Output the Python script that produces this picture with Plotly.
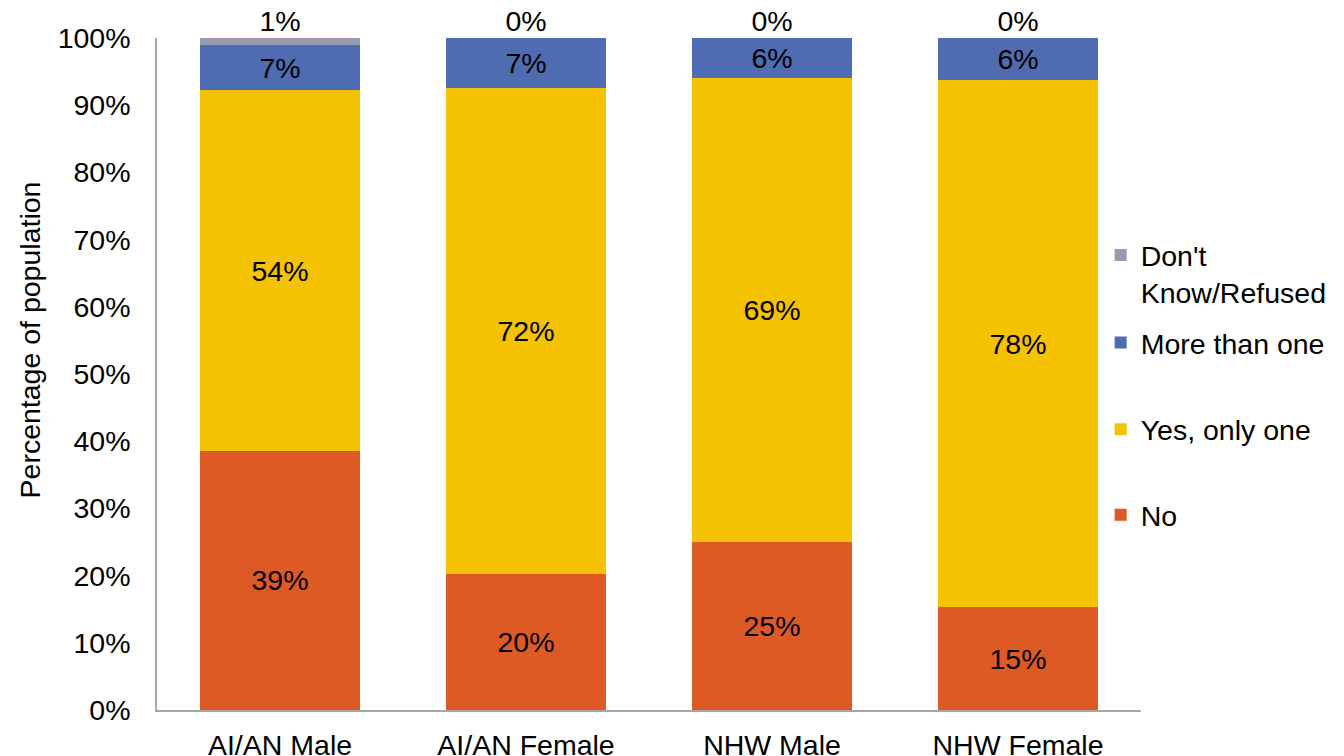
import plotly.graph_objects as go

categories = ["AI/AN Male", "AI/AN Female", "NHW Male", "NHW Female"]
no_vals = [38.6, 20.2, 25.0, 15.3]
yes_one_vals = [53.6, 72.4, 69.1, 78.4]
more_vals = [6.8, 7.4, 5.9, 6.3]
dk_vals = [1.0, 0.0, 0.0, 0.0]
y_ticks = [0, 10, 20, 30, 40, 50, 60, 70, 80, 90, 100]
y_tick_labels = [f"{t}%" for t in y_ticks]

# name, values, colour, show inside text, legend id, legend y (paper)
series = [
    ("No", no_vals, "#DE5A24", True, "legend4", 0.290),
    ("Yes, only one", yes_one_vals, "#F4C200", True, "legend3", 0.417),
    ("More than one", more_vals, "#4F6CB2", True, "legend2", 0.546),
    ("Don't<br>Know/Refused", dk_vals, "#9B9BB0", False, "legend", 0.649),
]

FONT = "Liberation Sans, Arial, sans-serif"
FS = 28.5
fig = go.Figure()
legends = {}
for name, vals, color, inside, leg, ly in series:
    fig.add_trace(go.Bar(
        x=categories, y=vals, name=name,
        marker=dict(color=color, line=dict(width=0)),
        text=[f"{round(v):.0f}%" for v in vals] if inside else None,
        textposition="inside" if inside else "none",
        insidetextanchor="middle",
        textangle=0, constraintext="none",
        textfont=dict(size=FS, color="#000000", family=FONT),
        cliponaxis=False,
        legend=leg,
    ))
    legends[leg] = dict(
        x=0.959, xanchor="left", y=ly, yanchor="middle",
        font=dict(size=FS, family=FONT), valign="top",
        bgcolor="rgba(0,0,0,0)",
    )

# Labels for the "Don't Know/Refused" segment, placed above each stack
totals = [a + b + c + d for a, b, c, d in zip(no_vals, yes_one_vals, more_vals, dk_vals)]
fig.add_trace(go.Scatter(
    x=categories, y=totals, mode="text",
    text=[f"{round(v):.0f}%" for v in dk_vals],
    textposition="top center",
    textfont=dict(size=FS, color="#000000", family=FONT),
    cliponaxis=False, showlegend=False, hoverinfo="skip",
))

# page body has an 8px default margin; size figure to fit the 1344x756 window
fig.update_layout(
    barmode="stack", bargap=0.35,
    width=1336, height=748,
    margin=dict(l=149, r=200, t=30, b=46),
    paper_bgcolor="white", plot_bgcolor="white",
    font=dict(family=FONT, size=FS, color="#000000"),
    showlegend=True,
    xaxis=dict(
        showline=True, linecolor="#A6A6A6", linewidth=1.5,
        ticks="", ticklabelstandoff=9, showgrid=False, automargin=False,
        tickfont=dict(size=FS),
    ),
    yaxis=dict(
        range=[0, 100.001], tickvals=y_ticks, ticktext=y_tick_labels,
        showline=True, linecolor="#A6A6A6", linewidth=1.5,
        ticks="", ticklabelstandoff=19, showgrid=False, zeroline=False,
        automargin=False, tickfont=dict(size=FS),
    ),
    annotations=[dict(
        text="Percentage of population", textangle=-90,
        xref="paper", yref="paper", x=-0.129, y=0.55,
        xanchor="center", yanchor="middle", showarrow=False,
        font=dict(size=FS, family=FONT),
    )],
    **legends,
)

fig.write_html("out.html")
